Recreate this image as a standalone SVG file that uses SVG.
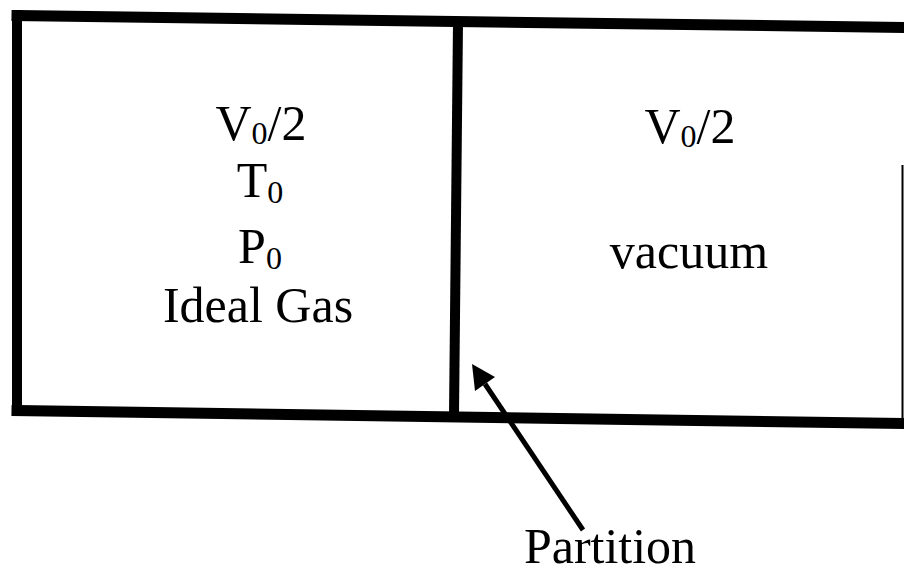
<svg xmlns="http://www.w3.org/2000/svg" width="904" height="584" viewBox="0 0 904 584">
<style>
.t{font-family:"Liberation Serif","Times New Roman",serif;font-size:50px;fill:#000;text-anchor:middle}
.s{font-size:32px}
.w{stroke:#000;fill:none;stroke-linecap:square}
</style>
<rect width="904" height="584" fill="#fff"/>
<g id="container">
<line class="w" x1="17" y1="15.5" x2="904" y2="27.5" stroke-width="11"/>
<line class="w" x1="17" y1="15" x2="17" y2="410" stroke-width="10"/>
<line class="w" x1="17" y1="410.5" x2="904" y2="423.5" stroke-width="11"/>
<line x1="902.5" y1="165" x2="902.5" y2="423" stroke="#000" stroke-width="2"/>
</g>
<g id="partition">
<line class="w" x1="458" y1="22" x2="454" y2="415" stroke-width="10"/>
</g>
<g id="left-chamber">
<text class="t" x="261" y="140">V<tspan class="s" dy="4">0</tspan><tspan dy="-4">/2</tspan></text>
<text class="t" x="260" y="197">T<tspan class="s" dy="6">0</tspan></text>
<text class="t" x="260" y="263">P<tspan class="s" dy="6">0</tspan></text>
<text class="t" x="258" y="322">Ideal Gas</text>
</g>
<g id="right-chamber">
<text class="t" x="690" y="143">V<tspan class="s" dy="4">0</tspan><tspan dy="-4">/2</tspan></text>
<text class="t" x="689" y="268">vacuum</text>
</g>
<g id="label">
<text class="t" x="610" y="563">Partition</text>
</g>
<g id="connectors">
<line x1="583" y1="530" x2="485" y2="384" stroke="#000" stroke-width="5"/>
<polygon points="472,364 475,391 495,377" fill="#000"/>
</g>
</svg>
